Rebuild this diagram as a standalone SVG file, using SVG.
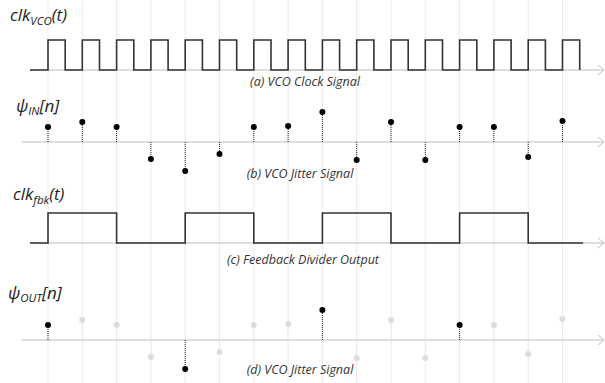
<svg xmlns="http://www.w3.org/2000/svg" width="605" height="383" viewBox="0 0 605 383">
<style>
.grid{stroke:#ebebeb;stroke-width:1}
.axis{stroke:#bdbdbd;stroke-width:1;fill:none}
.sig{stroke:#333;stroke-width:1.6;fill:none}
.stem{stroke:#222;stroke-width:1;stroke-dasharray:1,1}
.stemg{stroke:#e2e2e2;stroke-width:1;stroke-dasharray:1,1}
.dot{fill:#000}
.dotg{fill:#dcdcdc}
.lbl{font-family:"Open Sans","DejaVu Sans",sans-serif;font-style:italic;font-size:17px;fill:#222}
.sub{font-size:11.5px}
.cap{font-family:"Open Sans","DejaVu Sans",sans-serif;font-style:italic;font-size:12.5px;fill:#333;text-anchor:middle}
</style>
<rect width="605" height="383" fill="#fff"/>
<g id="grid">
<line class="grid" x1="48" y1="0" x2="48" y2="383"/>
<line class="grid" x1="82.3" y1="0" x2="82.3" y2="383"/>
<line class="grid" x1="116.6" y1="0" x2="116.6" y2="383"/>
<line class="grid" x1="150.9" y1="0" x2="150.9" y2="383"/>
<line class="grid" x1="185.2" y1="0" x2="185.2" y2="383"/>
<line class="grid" x1="219.5" y1="0" x2="219.5" y2="383"/>
<line class="grid" x1="253.8" y1="0" x2="253.8" y2="383"/>
<line class="grid" x1="288.1" y1="0" x2="288.1" y2="383"/>
<line class="grid" x1="322.4" y1="0" x2="322.4" y2="383"/>
<line class="grid" x1="356.7" y1="0" x2="356.7" y2="383"/>
<line class="grid" x1="391" y1="0" x2="391" y2="383"/>
<line class="grid" x1="425.3" y1="0" x2="425.3" y2="383"/>
<line class="grid" x1="459.6" y1="0" x2="459.6" y2="383"/>
<line class="grid" x1="493.9" y1="0" x2="493.9" y2="383"/>
<line class="grid" x1="528.2" y1="0" x2="528.2" y2="383"/>
<line class="grid" x1="562.5" y1="0" x2="562.5" y2="383"/>
</g>
<g id="axes">
<path class="axis" d="M30,70 H603 M598,65 L604,70 L598,75"/>
<path class="axis" d="M22,142 H603 M598,137 L604,142 L598,147"/>
<path class="axis" d="M30,243 H603 M598,238 L604,243 L598,248"/>
<path class="axis" d="M22,340 H603 M598,335 L604,340 L598,345"/>
</g>
<g id="panel-a">
<text class="lbl" x="10" y="21">clk<tspan class="sub" dy="4">VCO</tspan><tspan dy="-4">(t)</tspan></text>
<path class="sig" d="M30,70 H48 V40 H65.2 V70 H82.3 V40 H99.5 V70 H116.6 V40 H133.8 V70 H150.9 V40 H168.1 V70 H185.2 V40 H202.4 V70 H219.5 V40 H236.7 V70 H253.8 V40 H271 V70 H288.1 V40 H305.3 V70 H322.4 V40 H339.6 V70 H356.7 V40 H373.9 V70 H391 V40 H408.2 V70 H425.3 V40 H442.5 V70 H459.6 V40 H476.8 V70 H493.9 V40 H511.1 V70 H528.2 V40 H545.4 V70 H562.5 V40 H579.7 V70"/>
<text class="cap" x="305" y="86">(a) VCO Clock Signal</text>
</g>
<g id="panel-b">
<text class="lbl" x="16" y="112">ψ<tspan class="sub" dy="3">IN</tspan><tspan dy="-3">[n]</tspan></text>
<g>
<line class="stem" x1="48" y1="142" x2="48" y2="127"/>
<line class="stem" x1="82.3" y1="142" x2="82.3" y2="122"/>
<line class="stem" x1="116.6" y1="142" x2="116.6" y2="127"/>
<line class="stem" x1="150.9" y1="142" x2="150.9" y2="159"/>
<line class="stem" x1="185.2" y1="142" x2="185.2" y2="171"/>
<line class="stem" x1="219.5" y1="142" x2="219.5" y2="154"/>
<line class="stem" x1="253.8" y1="142" x2="253.8" y2="127"/>
<line class="stem" x1="288.1" y1="142" x2="288.1" y2="126"/>
<line class="stem" x1="322.4" y1="142" x2="322.4" y2="112"/>
<line class="stem" x1="356.7" y1="142" x2="356.7" y2="160"/>
<line class="stem" x1="391" y1="142" x2="391" y2="122"/>
<line class="stem" x1="425.3" y1="142" x2="425.3" y2="160"/>
<line class="stem" x1="459.6" y1="142" x2="459.6" y2="127"/>
<line class="stem" x1="493.9" y1="142" x2="493.9" y2="127"/>
<line class="stem" x1="528.2" y1="142" x2="528.2" y2="157"/>
<line class="stem" x1="562.5" y1="142" x2="562.5" y2="121"/>
</g>
<g>
<circle class="dot" cx="48" cy="127" r="3"/>
<circle class="dot" cx="82.3" cy="122" r="3"/>
<circle class="dot" cx="116.6" cy="127" r="3"/>
<circle class="dot" cx="150.9" cy="159" r="3"/>
<circle class="dot" cx="185.2" cy="171" r="3"/>
<circle class="dot" cx="219.5" cy="154" r="3"/>
<circle class="dot" cx="253.8" cy="127" r="3"/>
<circle class="dot" cx="288.1" cy="126" r="3"/>
<circle class="dot" cx="322.4" cy="112" r="3"/>
<circle class="dot" cx="356.7" cy="160" r="3"/>
<circle class="dot" cx="391" cy="122" r="3"/>
<circle class="dot" cx="425.3" cy="160" r="3"/>
<circle class="dot" cx="459.6" cy="127" r="3"/>
<circle class="dot" cx="493.9" cy="127" r="3"/>
<circle class="dot" cx="528.2" cy="157" r="3"/>
<circle class="dot" cx="562.5" cy="121" r="3"/>
</g>
<text class="cap" x="300" y="178">(b) VCO Jitter Signal</text>
</g>
<g id="panel-c">
<text class="lbl" x="13" y="200">clk<tspan class="sub" dy="4">fbk</tspan><tspan dy="-4">(t)</tspan></text>
<path class="sig" d="M30,243 H48 V213 H116.6 V243 H185.2 V213 H253.8 V243 H322.4 V213 H391 V243 H459.6 V213 H528.2 V243 H583"/>
<text class="cap" x="303" y="264">(c) Feedback Divider Output</text>
</g>
<g id="panel-d">
<text class="lbl" x="8" y="299">ψ<tspan class="sub" dy="3">OUT</tspan><tspan dy="-3">[n]</tspan></text>
<g>
<line class="stem" x1="48" y1="340" x2="48" y2="325"/>
<line class="stemg" x1="82.3" y1="340" x2="82.3" y2="320"/>
<line class="stemg" x1="116.6" y1="340" x2="116.6" y2="325"/>
<line class="stemg" x1="150.9" y1="340" x2="150.9" y2="357"/>
<line class="stem" x1="185.2" y1="340" x2="185.2" y2="369"/>
<line class="stemg" x1="219.5" y1="340" x2="219.5" y2="352"/>
<line class="stemg" x1="253.8" y1="340" x2="253.8" y2="325"/>
<line class="stemg" x1="288.1" y1="340" x2="288.1" y2="324"/>
<line class="stem" x1="322.4" y1="340" x2="322.4" y2="310"/>
<line class="stemg" x1="356.7" y1="340" x2="356.7" y2="358"/>
<line class="stemg" x1="391" y1="340" x2="391" y2="320"/>
<line class="stemg" x1="425.3" y1="340" x2="425.3" y2="358"/>
<line class="stem" x1="459.6" y1="340" x2="459.6" y2="325"/>
<line class="stemg" x1="493.9" y1="340" x2="493.9" y2="325"/>
<line class="stemg" x1="528.2" y1="340" x2="528.2" y2="354"/>
<line class="stemg" x1="562.5" y1="340" x2="562.5" y2="319"/>
</g>
<g>
<circle class="dotg" cx="82.3" cy="320" r="3"/>
<circle class="dotg" cx="116.6" cy="325" r="3"/>
<circle class="dotg" cx="150.9" cy="357" r="3"/>
<circle class="dotg" cx="219.5" cy="352" r="3"/>
<circle class="dotg" cx="253.8" cy="325" r="3"/>
<circle class="dotg" cx="288.1" cy="324" r="3"/>
<circle class="dotg" cx="356.7" cy="358" r="3"/>
<circle class="dotg" cx="391" cy="320" r="3"/>
<circle class="dotg" cx="425.3" cy="358" r="3"/>
<circle class="dotg" cx="493.9" cy="325" r="3"/>
<circle class="dotg" cx="528.2" cy="354" r="3"/>
<circle class="dotg" cx="562.5" cy="319" r="3"/>
<circle class="dot" cx="48" cy="325" r="3"/>
<circle class="dot" cx="185.2" cy="369" r="3"/>
<circle class="dot" cx="322.4" cy="310" r="3"/>
<circle class="dot" cx="459.6" cy="325" r="3"/>
</g>
<text class="cap" x="300" y="374">(d) VCO Jitter Signal</text>
</g>
</svg>
